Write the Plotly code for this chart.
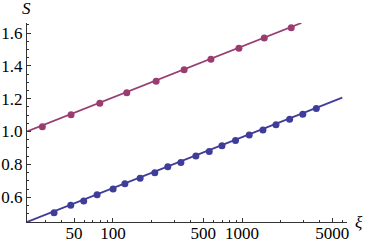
import plotly.graph_objects as go
import numpy as np

# data
xi_purple = [28.4, 47.4, 79.1, 128, 216, 356, 574, 946, 1486, 2404]
s_purple = [1.029, 1.102, 1.172, 1.236, 1.306, 1.376, 1.440, 1.507, 1.569, 1.632]

xi_blue = [35.0, 47.1, 59.4, 75.4, 100.3, 123.8, 162.4, 211, 266, 336,
           439, 557, 699, 890, 1137, 1452, 1832, 2336, 2954, 3760]
s_blue = [0.505, 0.551, 0.577, 0.615, 0.650, 0.682, 0.715, 0.749, 0.786, 0.812,
          0.851, 0.879, 0.914, 0.946, 0.979, 1.009, 1.041, 1.075, 1.105, 1.141]

fit_purple_x = [21.6, 2880]
fit_purple_y = [1.0, 1.661]
fit_blue_x = [21.6, 5970]
fit_blue_y = [0.449, 1.206]

x_major = [50, 100, 500, 1000, 5000]
x_minor = [30, 40, 60, 70, 80, 90, 200, 300, 400, 600, 700, 800, 900, 2000, 3000, 4000, 6000]
y_major = [0.6, 0.8, 1.0, 1.2, 1.4, 1.6]
y_labels = ["0.6", "0.8", "1.0", "1.2", "1.4", "1.6"]

purple = "#993D71"
blue = "#3F3D99"
axcol = "#333333"
font = "Liberation Serif"

fig = go.Figure()
fig.add_trace(go.Scatter(x=fit_purple_x, y=fit_purple_y, mode="lines",
                         line=dict(color=purple, width=1.8), showlegend=False))
fig.add_trace(go.Scatter(x=fit_blue_x, y=fit_blue_y, mode="lines",
                         line=dict(color=blue, width=1.8), showlegend=False))
fig.add_trace(go.Scatter(x=xi_purple, y=s_purple, mode="markers",
                         marker=dict(color=purple, size=7), showlegend=False))
fig.add_trace(go.Scatter(x=xi_blue, y=s_blue, mode="markers",
                         marker=dict(color=blue, size=7), showlegend=False))

fig.update_layout(
    width=365, height=244,
    margin=dict(l=27, r=18, t=23, b=22, autoexpand=False),
    paper_bgcolor="white", plot_bgcolor="white",
    font=dict(family=font, size=17, color="black"),
    xaxis=dict(type="log", range=[np.log10(21.6), np.log10(6500)], automargin=False,
               showgrid=False, zeroline=False, showline=True, linecolor=axcol, linewidth=1,
               ticks="inside", ticklen=4, tickcolor=axcol, tickwidth=1,
               tickvals=x_major, ticktext=[str(v) for v in x_major],
               tickfont=dict(family=font, size=17), ticklabelstandoff=-4,
               minor=dict(tickvals=x_minor, ticks="inside", ticklen=2, tickcolor=axcol, showgrid=False)),
    yaxis=dict(range=[0.449, 1.661], automargin=False,
               showgrid=False, zeroline=False, showline=True, linecolor=axcol, linewidth=1,
               ticks="inside", ticklen=4, tickcolor=axcol, tickwidth=1,
               tickvals=y_major, ticktext=y_labels,
               tickfont=dict(family=font, size=17), ticklabelstandoff=0,
               minor=dict(dtick=0.05, tick0=0, ticks="inside", ticklen=2, tickcolor=axcol, showgrid=False)),
    annotations=[
        dict(text="<i>S</i>", xref="paper", yref="paper", x=-0.003, y=1.0, yshift=15,
             xanchor="center", yanchor="middle", showarrow=False, font=dict(size=17, family=font)),
        dict(text="<i>ξ</i>", xref="paper", yref="paper", x=1.0, y=0.0, xshift=12,
             xanchor="center", yanchor="middle", showarrow=False, borderpad=0,
             font=dict(size=17, family=font)),
    ],
)
fig.write_html("out.html", config={"displayModeBar": False},
               post_script="document.body.style.margin='0';")
